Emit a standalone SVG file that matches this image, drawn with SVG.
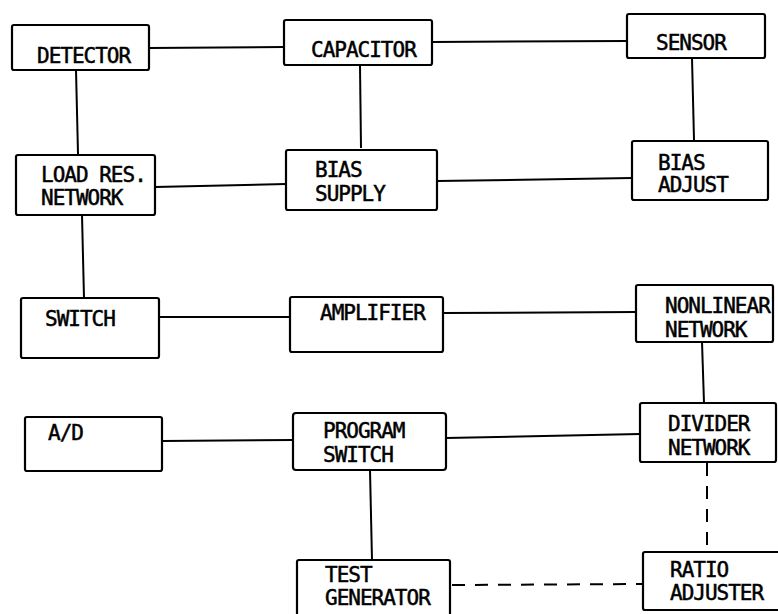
<svg xmlns="http://www.w3.org/2000/svg" width="778" height="614" viewBox="0 0 778 614">
<style>
.box{fill:#fff;stroke:#000;stroke-width:2.2}
.t{font-family:"DejaVu Sans Mono","Liberation Mono",monospace;font-size:21px;letter-spacing:-1px;fill:#000;stroke:#000;stroke-width:0.5}
.c{stroke:#000;stroke-width:2;fill:none}
.d{stroke:#000;stroke-width:2;fill:none;stroke-dasharray:13,10}
</style>
<rect width="778" height="614" fill="#fff"/>
<g id="connectors">
<line class="c" x1="149" y1="48" x2="284" y2="47"/>
<line class="c" x1="432" y1="42" x2="627" y2="41"/>
<line class="c" x1="76" y1="70" x2="78" y2="154"/>
<line class="c" x1="360" y1="66" x2="361" y2="148"/>
<line class="c" x1="692" y1="58" x2="694" y2="140"/>
<line class="c" x1="155" y1="187" x2="286" y2="184"/>
<line class="c" x1="437" y1="181" x2="632" y2="178"/>
<line class="c" x1="82" y1="215" x2="84" y2="298"/>
<line class="c" x1="159" y1="317" x2="290" y2="317"/>
<line class="c" x1="443" y1="313" x2="636" y2="312"/>
<line class="c" x1="702" y1="342" x2="704" y2="403"/>
<line class="c" x1="162" y1="441" x2="293" y2="440"/>
<line class="c" x1="446" y1="438" x2="640" y2="434"/>
<line class="c" x1="370" y1="470" x2="372" y2="560"/>
<line class="d" x1="707" y1="463" x2="707" y2="551"/>
<line class="d" x1="452" y1="585" x2="643" y2="584"/>
</g>
<g id="detector"><rect class="box" x="12" y="25" width="137" height="45" rx="2"/><text class="t" x="37" y="63">DETECTOR</text></g>
<g id="capacitor"><rect class="box" x="284" y="20" width="148" height="45" rx="2"/><text class="t" x="311" y="57">CAPACITOR</text></g>
<g id="sensor"><rect class="box" x="627" y="14" width="138" height="44" rx="2"/><text class="t" x="656" y="50">SENSOR</text></g>
<g id="load-res"><rect class="box" x="16" y="155" width="139" height="60" rx="2"/><text class="t" x="41" y="182">LOAD RES.</text><text class="t" x="41" y="205">NETWORK</text></g>
<g id="bias-supply"><rect class="box" x="286" y="150" width="151" height="60" rx="2"/><text class="t" x="315" y="177">BIAS</text><text class="t" x="315" y="201">SUPPLY</text></g>
<g id="bias-adjust"><rect class="box" x="632" y="141" width="136" height="59" rx="2"/><text class="t" x="658" y="170">BIAS</text><text class="t" x="658" y="192">ADJUST</text></g>
<g id="switch"><rect class="box" x="21" y="298" width="138" height="60" rx="2"/><text class="t" x="45" y="326">SWITCH</text></g>
<g id="amplifier"><rect class="box" x="290" y="297" width="153" height="55" rx="2"/><text class="t" x="320" y="320">AMPLIFIER</text></g>
<g id="nonlinear"><rect class="box" x="636" y="285" width="137" height="57" rx="2"/><text class="t" x="665" y="313">NONLINEAR</text><text class="t" x="665" y="337">NETWORK</text></g>
<g id="ad"><rect class="box" x="25" y="417" width="137" height="54" rx="2"/><text class="t" x="48" y="440">A/D</text></g>
<g id="program-switch"><rect class="box" x="293" y="413" width="153" height="57" rx="3"/><text class="t" x="323" y="438">PROGRAM</text><text class="t" x="323" y="462">SWITCH</text></g>
<g id="divider"><rect class="box" x="640" y="403" width="136" height="59" rx="2"/><text class="t" x="668" y="431">DIVIDER</text><text class="t" x="668" y="455">NETWORK</text></g>
<g id="test-generator"><rect class="box" x="297" y="560" width="153" height="60" rx="2"/><text class="t" x="325" y="582">TEST</text><text class="t" x="325" y="605">GENERATOR</text></g>
<g id="ratio-adjuster"><rect class="box" x="643" y="552" width="140" height="58" rx="2"/><text class="t" x="670" y="577">RATIO</text><text class="t" x="670" y="600">ADJUSTER</text></g>
</svg>
